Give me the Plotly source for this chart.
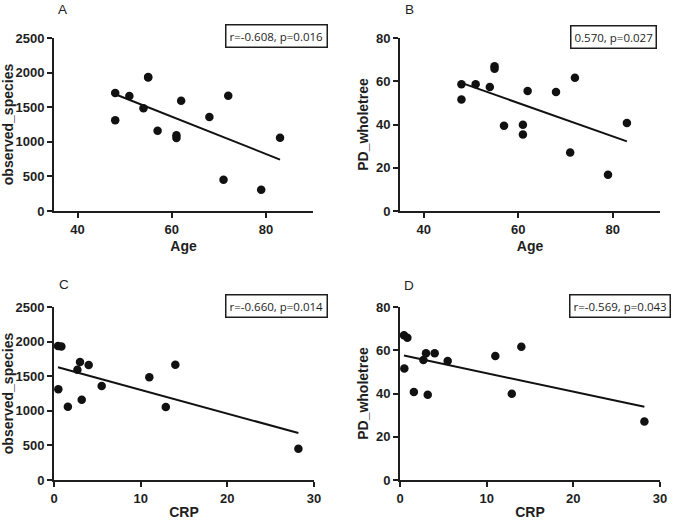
import numpy as np
import plotly.graph_objects as go

# ---- data (one entry per subject) ----
age = [48, 48, 51, 54, 55, 55, 57, 61, 61, 62, 68, 72, 71, 79, 83]
observed_species = [1705, 1310, 1662, 1484, 1938, 1930, 1161, 1055, 1093, 1594, 1358, 1667, 453, 308, 1060]
pd_wholetree = [58.6, 51.6, 58.6, 57.3, 66.9, 65.8, 39.4, 39.9, 35.4, 55.5, 55.0, 61.6, 27.0, 16.8, 40.7]
crp = [3.0, 0.5, 4.0, 11.0, 0.46, 0.85, 3.2, 12.9, None, 2.7, 5.5, 14.0, 28.2, None, 1.6]

panel_letters = ["A", "B", "C", "D"]
stats_text = ["r=-0.608, p=0.016", "0.570, p=0.027", "r=-0.660, p=0.014", "r=-0.569, p=0.043"]
x_titles = ["Age", "Age", "CRP", "CRP"]
y_titles = ["observed_species", "PD_wholetree", "observed_species", "PD_wholetree"]

W, H = 674, 520
INK = "#1e1e1e"
FONT = "Liberation Sans, Arial, sans-serif"

# pixel boxes of the plot areas: (left, right, top, bottom)
boxes = [(54, 313, 38, 211), (400, 660, 38, 211), (54, 314, 307, 480), (400, 660, 307, 480)]


def paper_x(px):
    return px / W


def paper_y(py):
    return 1 - py / H


fig = go.Figure()

panels = [
    (age, observed_species, [35, 90], 20, [0, 2500], 500),
    (age, pd_wholetree, [35, 90], 20, [0, 80], 20),
    (crp, observed_species, [0, 30], 10, [0, 2500], 500),
    (crp, pd_wholetree, [0, 30], 10, [0, 80], 20),
]

for i, (xs, ys, xr, xd, yr, yd) in enumerate(panels):
    n = i + 1
    xa = "x" if n == 1 else f"x{n}"
    ya = "y" if n == 1 else f"y{n}"
    x = np.array([np.nan if v is None else v for v in xs], dtype=float)
    y = np.array(ys, dtype=float)
    m = ~np.isnan(x)
    x, y = x[m], y[m]

    fig.add_trace(go.Scatter(
        x=x, y=y, mode="markers", xaxis=xa, yaxis=ya,
        marker=dict(size=8.5, color="#111111"), showlegend=False, hoverinfo="x+y"))

    slope, intercept = np.polyfit(x, y, 1)
    lx = np.array([x.min(), x.max()])
    fig.add_trace(go.Scatter(
        x=lx, y=slope * lx + intercept, mode="lines", xaxis=xa, yaxis=ya,
        line=dict(color="#111111", width=2), showlegend=False, hoverinfo="skip"))

    l, r, t, b = boxes[i]
    axis_common = dict(
        showline=True, linecolor=INK, linewidth=1.8, mirror=False,
        ticks="outside", ticklen=5, tickwidth=1.8, tickcolor=INK,
        showgrid=False, zeroline=False, automargin=False,
        tickfont=dict(family=FONT, size=13, color=INK, weight="bold"),
    )
    fig.layout[f"xaxis{'' if n == 1 else n}"] = dict(
        axis_common, domain=[paper_x(l), paper_x(r)], anchor=ya,
        range=xr, tick0=0, dtick=xd,
        title=dict(text=x_titles[i], standoff=6,
                   font=dict(family=FONT, size=14, color=INK, weight="bold")),
    )
    fig.layout[f"yaxis{'' if n == 1 else n}"] = dict(
        axis_common, domain=[paper_y(b), paper_y(t)], anchor=xa,
        range=yr, tick0=0, dtick=yd,
        title=dict(text=y_titles[i], standoff=4,
                   font=dict(family=FONT, size=14, color=INK, weight="bold")),
    )

# panel letters
letter_pos = [(63, 9), (409, 9), (64, 284), (409, 285)]
for (px, py), letter in zip(letter_pos, panel_letters):
    fig.add_annotation(x=paper_x(px), y=paper_y(py), xref="paper", yref="paper",
                       text=letter, showarrow=False, xanchor="center", yanchor="middle",
                       font=dict(family=FONT, size=13.5, color=INK))

# statistics boxes
stat_pos = [(276, 36.5), (613.5, 37), (276, 306), (619.5, 306)]
for (px, py), txt in zip(stat_pos, stats_text):
    fig.add_annotation(x=paper_x(px), y=paper_y(py), xref="paper", yref="paper",
                       text=txt, showarrow=False, xanchor="center", yanchor="middle",
                       font=dict(family="Open Sans, sans-serif", size=11.5, color=INK),
                       bordercolor=INK, borderwidth=1.5, borderpad=3, bgcolor="white")

fig.update_layout(
    width=W, height=H,
    margin=dict(l=0, r=0, t=0, b=0),
    paper_bgcolor="white", plot_bgcolor="white",
    showlegend=False,
)

fig.write_html(
    "out.html",
    config={"displayModeBar": False},
    post_script="document.body.style.margin='0';document.body.style.padding='0';",
)
